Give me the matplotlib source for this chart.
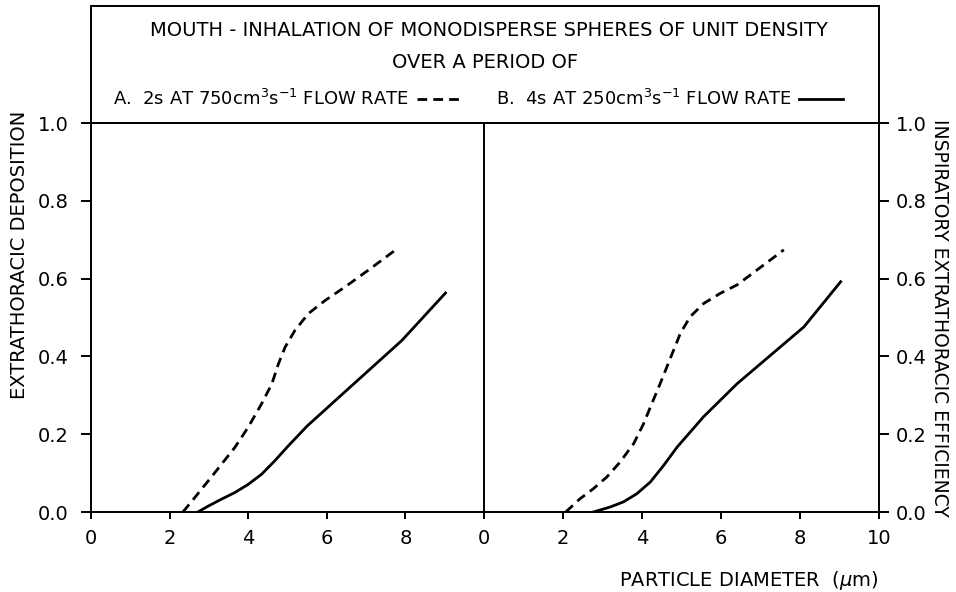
import matplotlib
matplotlib.use("Agg")
import matplotlib.pyplot as plt
from matplotlib.lines import Line2D
from matplotlib.patches import Rectangle

plt.rcParams['font.family'] = ['DejaVu Sans']
plt.rcParams['font.size'] = 14

# particle diameter (um) vs. fraction, read per curve
# left panel: extrathoracic deposition
dep_a_x = [2.34, 2.64, 3.15, 3.66, 4.0, 4.34, 4.6, 4.77, 4.94, 5.19, 5.53, 5.96, 6.47, 7.06, 7.74]
dep_a_y = [0.0, 0.037, 0.101, 0.166, 0.218, 0.278, 0.329, 0.381, 0.424, 0.467, 0.51, 0.544, 0.579, 0.622, 0.673]
dep_b_x = [2.72, 2.98, 3.32, 3.66, 4.0, 4.34, 4.68, 5.02, 5.5, 6.21, 7.91, 9.02]
dep_b_y = [0.0, 0.015, 0.033, 0.05, 0.071, 0.097, 0.132, 0.17, 0.221, 0.286, 0.441, 0.563]

# right panel: inspiratory extrathoracic efficiency
eff_a_x = [2.07, 2.43, 2.77, 3.11, 3.45, 3.79, 4.04, 4.25, 4.46, 4.63, 4.8, 4.97, 5.22,
           5.56, 5.98, 6.41, 6.91, 7.59]
eff_a_y = [0.0, 0.034, 0.06, 0.09, 0.129, 0.176, 0.227, 0.279, 0.33, 0.373, 0.416, 0.459,
           0.502, 0.536, 0.562, 0.584, 0.622, 0.674]
eff_b_x = [2.77, 3.2, 3.53, 3.87, 4.21, 4.55, 4.89, 5.56, 6.41, 8.1, 9.03]
eff_b_y = [0.0, 0.013, 0.026, 0.047, 0.077, 0.12, 0.167, 0.245, 0.33, 0.476, 0.592]

left_xticks = [0, 2, 4, 6, 8]
right_xticks = [0, 2, 4, 6, 8, 10]
yticks = [0.0, 0.2, 0.4, 0.6, 0.8, 1.0]

label_a = r'A.  2s AT 750cm$^3$s$^{-1}$ FLOW RATE'
label_b = r'B.  4s AT 250cm$^3$s$^{-1}$ FLOW RATE'

W, H = 956, 592
fig = plt.figure(figsize=(W / 100, H / 100), dpi=100)


def fx(px):
    return px / W


def fy(py):
    return (H - py) / H


x0, xm, x1 = 91, 484, 879
ytop, ybot = 123, 512
ax1 = fig.add_axes([fx(x0), fy(ybot), fx(xm - x0), fy(ytop) - fy(ybot)])
ax2 = fig.add_axes([fx(xm), fy(ybot), fx(x1 - xm), fy(ytop) - fy(ybot)])

lw_axis = 1.4
lw_data = 2.0
dash = (0, (3.5, 2.2))

ax1.plot(dep_a_x, dep_a_y, color='black', lw=lw_data, linestyle=dash)
ax1.plot(dep_b_x, dep_b_y, color='black', lw=lw_data)
ax2.plot(eff_a_x, eff_a_y, color='black', lw=lw_data, linestyle=dash)
ax2.plot(eff_b_x, eff_b_y, color='black', lw=lw_data)

for ax in (ax1, ax2):
    ax.set_xlim(0, 10)
    ax.set_ylim(0, 1)
    for s in ax.spines.values():
        s.set_linewidth(lw_axis)
    ax.tick_params(axis='x', direction='out', length=5, width=lw_axis, pad=7)
    ax.tick_params(axis='y', direction='out', length=7, width=lw_axis)

ax1.spines['right'].set_visible(False)
ax1.set_xticks(left_xticks)
ax1.set_xticklabels([str(v) for v in left_xticks])
ax1.set_yticks(yticks)
ax1.set_yticklabels(['%.1f' % v for v in yticks])
ax1.tick_params(axis='y', pad=9)

ax2.set_xticks(right_xticks)
ax2.set_xticklabels([str(v) for v in right_xticks])
ax2.set_yticks(yticks)
ax2.set_yticklabels(['%.1f' % v for v in yticks])
ax2.yaxis.tick_right()
ax2.tick_params(axis='y', pad=5)

# header box above the two panels
fig.add_artist(Rectangle((fx(x0), fy(ytop)), fx(x1 - x0), fy(6) - fy(ytop),
                         transform=fig.transFigure, fill=False,
                         lw=lw_axis, edgecolor='black'))

fig.text(fx(489), fy(30), 'MOUTH - INHALATION OF MONODISPERSE SPHERES OF UNIT DENSITY',
         ha='center', va='center')
fig.text(fx(485), fy(62), 'OVER A PERIOD OF', ha='center', va='center')

handles = [Line2D([], [], color='black', lw=lw_data, linestyle=dash),
           Line2D([], [], color='black', lw=lw_data)]
fig.legend(handles, [label_a, label_b], ncol=2, markerfirst=False,
           frameon=False, loc='center', bbox_to_anchor=(fx(478), fy(99)),
           handlelength=2.4, columnspacing=2.0, handletextpad=0.4,
           borderpad=0, fontsize=13)

fig.text(fx(20), fy(255), 'EXTRATHORACIC DEPOSITION', rotation=90,
         ha='center', va='center')
fig.text(fx(939), fy(318), 'INSPIRATORY EXTRATHORACIC EFFICIENCY', rotation=270,
         ha='center', va='center', fontsize=13.5)
fig.text(fx(x1), fy(580), r'PARTICLE DIAMETER  ($\mu$m)', ha='right', va='center')

plt.savefig('out.png', dpi=100)
